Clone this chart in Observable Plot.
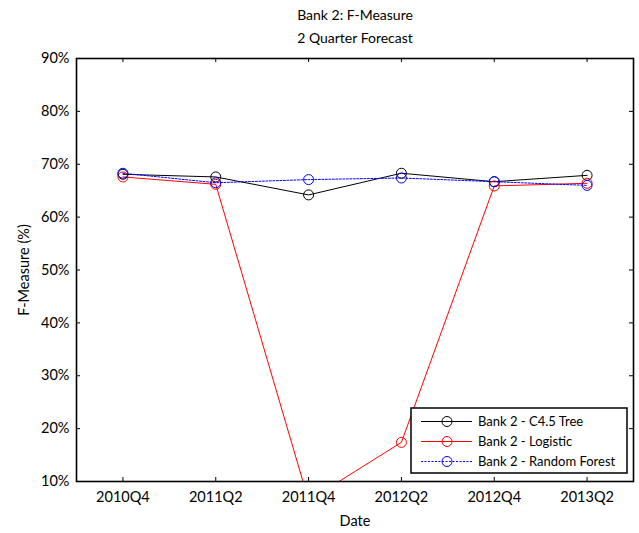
<!DOCTYPE html>
<html>
<head>
<meta charset="utf-8">
<script src="https://cdn.jsdelivr.net/npm/d3@7"></script>
<script src="https://cdn.jsdelivr.net/npm/@observablehq/plot@0.6"></script>
<style>
  body { margin: 0; background: #fff; }
  #wrap { position: relative; width: 639px; height: 533px; font-family: Lato, "Open Sans", sans-serif; }
  #legend { position: absolute; left: 0; top: 0; }
</style>
</head>
<body>
<div id="wrap"></div>
<script>
const quarters = ["2010Q4", "2011Q2", "2011Q4", "2012Q2", "2012Q4", "2013Q2"];
const c45Tree = [68.1, 67.6, 64.2, 68.3, 66.7, 67.9];
const logistic = [67.6, 66.2, 6.4, 17.4, 65.9, 66.4];
const randomForest = [68.3, 66.5, 67.1, 67.4, 66.7, 66.0];
const seriesNames = ["Bank 2 - C4.5 Tree", "Bank 2 - Logistic", "Bank 2 - Random Forest"];
const seriesColors = ["#000000", "#ff0000", "#0000ff"];
const yTicks = [10, 20, 30, 40, 50, 60, 70, 80, 90];
const titleLines = ["Bank 2: F-Measure", "2 Quarter Forecast"];

const seriesValues = [c45Tree, logistic, randomForest];
const rows = seriesValues.flatMap((vals, s) =>
  vals.map((v, i) => ({series: seriesNames[s], i, q: quarters[i], value: v})));
const xIdx = quarters.map((_, i) => i);

const W = 639, H = 533;
const mL = 76, mR = 6, mT = 58, mB = 52;
const frameH = H - mT - mB, frameW = W - mL - mR;
const tk = 4;

const dashes = [null, null, "2,1.5"];
const lineMarks = seriesNames.map((name, s) =>
  Plot.line(rows.filter(d => d.series === name), {
    x: "i", y: "value", stroke: seriesColors[s], strokeWidth: 1,
    strokeDasharray: dashes[s], clip: true
  }));
const dotMarks = seriesNames.map((name, s) =>
  Plot.dot(rows.filter(d => d.series === name), {
    x: "i", y: "value", stroke: seriesColors[s], r: 5, strokeWidth: 1, fill: "none", clip: true
  }));

const chart = Plot.plot({
  width: W, height: H,
  marginLeft: mL, marginRight: mR, marginTop: mT, marginBottom: mB,
  style: {fontFamily: "Lato, 'Open Sans', sans-serif", fontSize: "14px", background: "white", color: "black"},
  x: {type: "linear", domain: [-0.5, 5.5]},
  y: {type: "linear", domain: [10, 90]},
  marks: [
    ...lineMarks,
    ...dotMarks,
    Plot.frame({stroke: "black", strokeWidth: 1.6}),
    // inward ticks on all four sides
    Plot.tickX(xIdx, {x: d => d, stroke: "black", insetTop: frameH - tk}),
    Plot.tickX(xIdx, {x: d => d, stroke: "black", insetBottom: frameH - tk}),
    Plot.tickY(yTicks, {y: d => d, stroke: "black", insetRight: frameW - tk}),
    Plot.tickY(yTicks, {y: d => d, stroke: "black", insetLeft: frameW - tk}),
    Plot.axisX(xIdx, {tickSize: 0, tickPadding: 10, tickFormat: i => quarters[i], fontSize: 14.5,
      label: "Date", labelAnchor: "center", labelArrow: "none", labelOffset: 44}),
    Plot.axisY(yTicks, {tickSize: 0, tickPadding: 7, tickFormat: d => d + "%", fontSize: 14.5,
      label: "F-Measure (%)", labelAnchor: "center", labelArrow: "none", labelOffset: 58}),
    Plot.text([titleLines[0]], {text: d => d, frameAnchor: "top", dy: -48, fontSize: 14}),
    Plot.text([titleLines[1]], {text: d => d, frameAnchor: "top", dy: -25, fontSize: 14})
  ]
});
const wrap = document.getElementById("wrap");
wrap.appendChild(chart);

// legend overlay
const lg = d3.select(wrap).append("svg").attr("id", "legend")
  .attr("width", W).attr("height", H)
  .style("font-family", "Lato, 'Open Sans', sans-serif");
const bx = 411, by = 408, bw = 216, bh = 65;
lg.append("rect").attr("x", bx).attr("y", by).attr("width", bw).attr("height", bh)
  .attr("fill", "white").attr("stroke", "black").attr("stroke-width", 1.5);
seriesNames.forEach((name, s) => {
  const cy = by + 13.5 + s * 20;
  const l = lg.append("line").attr("x1", bx + 10).attr("x2", bx + 61).attr("y1", cy).attr("y2", cy)
    .attr("stroke", seriesColors[s]).attr("stroke-width", 1);
  if (dashes[s]) l.attr("stroke-dasharray", dashes[s]);
  lg.append("circle").attr("cx", bx + 36).attr("cy", cy).attr("r", 5)
    .attr("fill", "none").attr("stroke", seriesColors[s]);
  lg.append("text").attr("x", bx + 67).attr("y", cy).attr("dy", "0.35em")
    .attr("font-size", 13).text(name);
});
</script>
</body>
</html>
